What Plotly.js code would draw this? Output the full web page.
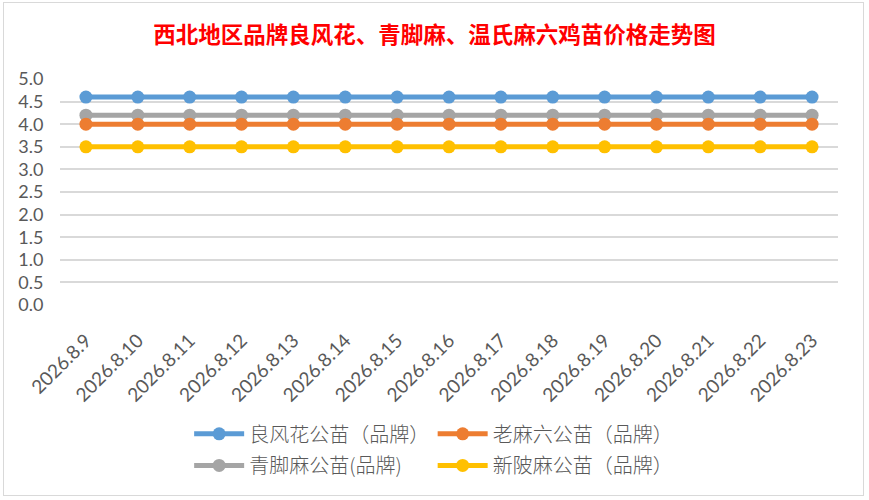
<!DOCTYPE html>
<html>
<head>
<meta charset="utf-8">
<script src="https://cdn.plot.ly/plotly-3.0.1.min.js"></script>
<style>
  body { margin: 0; background: #fff; }
  #chart { width: 869px; height: 500px; }
  #frame { position: absolute; left: 3px; top: 2px; width: 859px; height: 492px;
           border: 1.5px solid #d9d9d9; pointer-events: none; }
</style>
</head>
<body>
<div id="chart"></div>
<div id="frame"></div>
<script>
const dates = ["2026.8.9", "2026.8.10", "2026.8.11", "2026.8.12", "2026.8.13",
  "2026.8.14", "2026.8.15", "2026.8.16", "2026.8.17", "2026.8.18",
  "2026.8.19", "2026.8.20", "2026.8.21", "2026.8.22", "2026.8.23"];
const liangfenghua = [4.6, 4.6, 4.6, 4.6, 4.6, 4.6, 4.6, 4.6, 4.6, 4.6, 4.6, 4.6, 4.6, 4.6, 4.6];
const laomaliu = [4.0, 4.0, 4.0, 4.0, 4.0, 4.0, 4.0, 4.0, 4.0, 4.0, 4.0, 4.0, 4.0, 4.0, 4.0];
const qingjiaoma = [4.2, 4.2, 4.2, 4.2, 4.2, 4.2, 4.2, 4.2, 4.2, 4.2, 4.2, 4.2, 4.2, 4.2, 4.2];
const xinpoma = [3.5, 3.5, 3.5, 3.5, 3.5, 3.5, 3.5, 3.5, 3.5, 3.5, 3.5, 3.5, 3.5, 3.5, 3.5];

function line(name, y, color, legend) {
  return {
    type: "scatter", mode: "lines+markers", name: name, x: dates, y: y,
    line: { color: color, width: 5 },
    marker: { color: color, size: 13 },
    legend: legend
  };
}

const traces = [
  line("良风花公苗（品牌）", liangfenghua, "#5B9BD5", "legend"),
  line("青脚麻公苗(品牌)", qingjiaoma, "#A5A5A5", "legend3"),
  line("老麻六公苗（品牌）", laomaliu, "#ED7D31", "legend2"),
  line("新陂麻公苗（品牌）", xinpoma, "#FFC000", "legend4")
];

// one legend box per entry, laid out as a 2x2 grid
function legendAt(x, y) {
  return {
    orientation: "h", xanchor: "left", yanchor: "middle", x: x, y: y,
    itemwidth: 50,
    font: { family: "Noto Sans CJK SC", size: 20, weight: 300, color: "#595959" },
    bgcolor: "rgba(0,0,0,0)"
  };
}

const layout = {
  width: 869, height: 500,
  margin: { l: 60, r: 31, t: 79, b: 195 },
  paper_bgcolor: "#fff", plot_bgcolor: "#fff",
  title: {
    text: "<b>西北地区品牌良风花、青脚麻、温氏麻六鸡苗价格走势图</b>",
    font: { family: "Noto Sans CJK SC", size: 22.5, color: "#FF0000" },
    x: 0.5, xanchor: "center", y: 0.93, yanchor: "middle"
  },
  xaxis: {
    type: "category", tickangle: -45, automargin: false,
    range: [-0.5, dates.length - 0.5],
    tickfont: { family: "Lato", size: 19, color: "#595959" },
    ticks: "outside", ticklen: 16, tickcolor: "rgba(0,0,0,0)",
    showgrid: false, showline: false, zeroline: false
  },
  yaxis: {
    range: [0, 5], dtick: 0.5, tickformat: ".1f", automargin: false,
    tickfont: { family: "Lato", size: 18, color: "#595959" },
    ticks: "outside", ticklen: 12, tickcolor: "rgba(0,0,0,0)",
    gridcolor: "#d9d9d9", gridwidth: 1.5, zeroline: false,
    showline: false
  },
  showlegend: true,
  legend: legendAt(0.166, -0.57),
  legend2: legendAt(0.479, -0.57),
  legend3: legendAt(0.166, -0.71),
  legend4: legendAt(0.479, -0.71)
};

Plotly.newPlot("chart", traces, layout, { displayModeBar: false });
</script>
</body>
</html>
